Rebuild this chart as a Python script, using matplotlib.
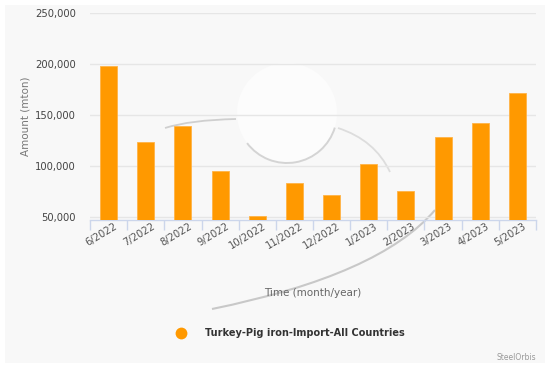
import matplotlib
matplotlib.use("Agg")
import matplotlib.pyplot as plt
from matplotlib.patches import Rectangle, Circle, PathPatch, Arc
from matplotlib.path import Path
from matplotlib.lines import Line2D
from matplotlib.ticker import FuncFormatter, FixedLocator
from matplotlib.transforms import ScaledTranslation, Affine2D
import numpy as np

categories = ["6/2022", "7/2022", "8/2022", "9/2022", "10/2022", "11/2022",
              "12/2022", "1/2023", "2/2023", "3/2023", "4/2023", "5/2023"]
values = [198300, 123300, 139300, 95300, 51000, 83700,
          72000, 101700, 75700, 128700, 142000, 171700]
series_name = "Turkey-Pig iron-Import-All Countries"
y_ticks = [50000, 100000, 150000, 200000, 250000]

W, H = 558, 368
fig = plt.figure(figsize=(W / 100, H / 100), dpi=100)
fig.patch.set_facecolor("white")


def P(px, py):
    return (px / W, 1 - py / H)


# background panel
bg = Rectangle(P(5, 363), 540 / W, 358 / H,
               transform=fig.transFigure, facecolor="#f8f8f8",
               edgecolor="none", zorder=-10)
fig.add_artist(bg)

ax = fig.add_axes([90 / W, 1 - 220 / H, 446 / W, (220 - 13.3) / H])
ax.set_zorder(2)
ax.set_facecolor("none")

# faint watermark (decorative)
wm_tr = Affine2D().scale(1, -1).translate(0, H).scale(fig.dpi / 100)
ax.add_patch(Circle((287, 113), 50, transform=wm_tr, facecolor="#fcfcfc",
                    edgecolor="none", zorder=1, clip_on=False))
ax.add_patch(Arc((287, 113), 100, 100, theta1=17, theta2=143, transform=wm_tr,
                 color="#d4d4d4", linewidth=1.4, zorder=1, clip_on=False))


def curve(pts, lw=1.3, color="#cfcfcf"):
    codes = [Path.MOVETO] + [Path.CURVE3] * (len(pts) - 1)
    ax.add_patch(PathPatch(Path(pts, codes), transform=wm_tr, facecolor="none",
                           edgecolor=color, linewidth=lw, zorder=1,
                           clip_on=False))


curve([(165, 128), (190, 120), (236, 119)])
curve([(338, 128), (375, 140), (390, 172)], color="#dddddd")
curve([(212, 309), (380, 275), (435, 210)], lw=1.5, color="#c8c8c8")

x = np.arange(len(categories))
ax.bar(x, values, width=0.46, color="#ff9900", edgecolor="#ffb347",
       linewidth=0.6, bottom=0, zorder=3)

ax.set_xlim(-0.5, len(categories) - 0.5)
ax.set_ylim(47000, 250000)
ax.yaxis.set_major_locator(FixedLocator(y_ticks))
ax.yaxis.set_major_formatter(FuncFormatter(lambda v, p: f"{int(v):,}"))
ax.grid(axis="y", color="#e6e6e6", linewidth=1, zorder=0)
ax.tick_params(axis="y", length=0, labelsize=7.2, labelcolor="#444444", pad=10)

ax.set_xticks(x)
ax.set_xticklabels(categories, rotation=31, ha="right", va="center",
                   rotation_mode="anchor", fontsize=7.2, color="#555555")
ax.tick_params(axis="x", length=0, pad=4)
offset = ScaledTranslation(8 / 100, 0, fig.dpi_scale_trans)
for lbl in ax.get_xticklabels():
    lbl.set_transform(lbl.get_transform() + offset)
ax.set_xticks(np.arange(-0.5, len(categories)), minor=True)
ax.tick_params(axis="x", which="minor", length=7, color="#ccd6eb", width=1)

for s in ["top", "right", "left"]:
    ax.spines[s].set_visible(False)
ax.spines["bottom"].set_color("#ccd6eb")
ax.spines["bottom"].set_linewidth(1)

ax.set_ylabel("Amount (mton)", fontsize=7.5, color="#777777", labelpad=3.5)
fig.text(313 / W, 1 - 293 / H, "Time (month/year)", fontsize=7.5,
         color="#666666", ha="center", va="center")

# legend
fig.add_artist(Line2D([181 / W], [1 - 333 / H], transform=fig.transFigure,
                      marker="o", markersize=8.5, color="#ff9900",
                      markeredgewidth=0, linestyle="none"))
fig.text(205 / W, 1 - 333 / H, series_name, fontsize=7, fontweight="bold",
         color="#333333", ha="left", va="center")

fig.text(536 / W, 1 - 357 / H, "SteelOrbis", fontsize=5.5, color="#999999",
         ha="right", va="center")

fig.savefig("out.png", dpi=100)
